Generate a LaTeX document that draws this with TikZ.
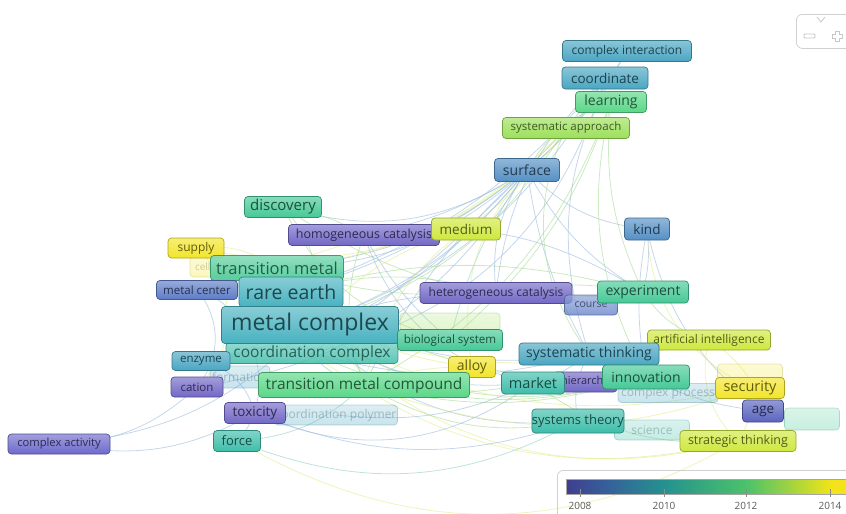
\documentclass[tikz,border=0pt]{standalone}
\usepackage{fontspec}
\setmainfont{Open Sans}
\usetikzlibrary{backgrounds}
\definecolor{cPur}{HTML}{7268C6}
\definecolor{cPurB}{HTML}{6E6ACC}
\definecolor{cBlP}{HTML}{5E7CC6}
\definecolor{cAge}{HTML}{5A64BE}
\definecolor{cBlue}{HTML}{5590C4}
\definecolor{cCyan}{HTML}{4AA6C2}
\definecolor{cTeal}{HTML}{48B2C0}
\definecolor{cTG}{HTML}{3EBDAA}
\definecolor{cGreen}{HTML}{46C996}
\definecolor{cLG}{HTML}{5AD788}
\definecolor{cYG}{HTML}{9CE05A}
\definecolor{cLY}{HTML}{CFE83E}
\definecolor{cYel}{HTML}{F2E52A}
\definecolor{eb}{HTML}{9DBDDD}
\definecolor{eg}{HTML}{A8DC98}
\definecolor{ey}{HTML}{E2EC8E}
\definecolor{et}{HTML}{90D0CC}
\definecolor{v0}{HTML}{403E8E}
\definecolor{v1}{HTML}{35629A}
\definecolor{v2}{HTML}{25928F}
\definecolor{v3}{HTML}{4CC26A}
\definecolor{v4}{HTML}{F2E418}
\pgfdeclarehorizontalshading{viridis}{100bp}{color(0bp)=(v0); color(25bp)=(v0); color(32.5bp)=(v1); color(42.5bp)=(v2); color(57bp)=(v3); color(72bp)=(v4); color(75bp)=(v4); color(100bp)=(v4)}
\tikzset{
  kw/.style={rounded corners=3.5pt, draw=#1!72!black, top color=#1!65!white, bottom color=#1, text=#1!40!black, line width=0.7pt, inner sep=0pt},
  fz/.style={font=\fontsize{#1}{#1}\selectfont},
  faded/.style={opacity=0.3},
  edge/.style={line width=0.8pt, opacity=0.6},
  ui/.style={draw=black!18, line width=0.8pt},
}
\begin{document}
\begin{tikzpicture}[x=1pt,y=-1pt]
\useasboundingbox (0,0) rectangle (846,514);
% faded / background labels
\node[kw=cYel, faded, fz=10, minimum width=50, minimum height=20, text width=40, align=left] (cefade) at (215,267) {cell};
\node[kw=cYG, faded, minimum width=100, minimum height=18] (fadeion) at (450,322) {};
\node[kw=cCyan, faded, fz=12, minimum width=60, minimum height=22] (form) at (240,377) {formation};
\node[kw=cYel, faded, minimum width=65, minimum height=20] (sust) at (750,374) {};
\node[kw=cCyan, faded, fz=12, minimum width=100, minimum height=19] (cproc) at (668,393) {complex process};
\node[kw=cGreen, faded, minimum width=55, minimum height=22] (fadeR) at (812,419) {};
\node[kw=cCyan, faded, fz=12, minimum width=123, minimum height=20] (cpol) at (336,415) {coordination polymer};
\node[kw=cTG, faded, fz=12, minimum width=75, minimum height=20] (ence) at (652,430) {science};
\node[kw=cPur, fz=11, minimum width=64, minimum height=20] (hier) at (585,382) {hierarchy};
% main labels
\node[kw=cCyan, fz=12, minimum width=129, minimum height=21] (ci) at (627,51) {complex interaction};
\node[kw=cCyan, fz=13.5, minimum width=86, minimum height=22] (coord) at (605,78) {coordinate};
\node[kw=cLG, fz=14, minimum width=71, minimum height=21] (learn) at (611,102) {learning};
\node[kw=cYG, fz=11.5, minimum width=127, minimum height=21] (sysapp) at (566,128) {systematic approach};
\node[kw=cBlue, fz=14, minimum width=65, minimum height=23] (surf) at (527,170) {surface};
\node[kw=cBlue, fz=13.5, minimum width=45, minimum height=22] (kind) at (647,229) {kind};
\node[kw=cGreen, fz=15, minimum width=77, minimum height=21] (disc) at (283,207) {discovery};
\node[kw=cPur, fz=12.5, minimum width=151, minimum height=21] (homo) at (364,235) {homogeneous catalysis};
\node[kw=cLY, fz=13.5, minimum width=69, minimum height=22] (med) at (466,229) {medium};
\node[kw=cYel, fz=12, minimum width=56, minimum height=20] (supp) at (196,248) {supply};
\node[kw=cGreen, fz=16.5, minimum width=133, minimum height=25, opacity=0.9] (tm) at (277,268) {transition metal};
\node[kw=cBlP, fz=11.5, minimum width=81, minimum height=19] (mcen) at (197,290) {metal center};
\node[kw=cTeal, fz=19.5, minimum width=104, minimum height=30] (re) at (291,292) {rare earth};
\node[kw=cPur, fz=12, minimum width=152, minimum height=21] (hetero) at (496,293) {heterogeneous catalysis};
\node[kw=cBlP, fz=10.5, minimum width=53, minimum height=20, opacity=0.75] (course) at (591,305) {course};
\node[kw=cGreen, fz=14, minimum width=91, minimum height=22] (exper) at (643,292) {experiment};
\node[kw=cTG, fz=15.5, minimum width=172, minimum height=21, opacity=0.85] (cc) at (312,353) {coordination complex};
\node[kw=cTeal, fz=23, minimum width=177, minimum height=37] (mc) at (310,325) {metal complex};
\node[kw=cGreen, fz=11.6, minimum width=105, minimum height=21] (bio) at (450,340) {biological system};
\node[kw=cCyan, fz=11.5, minimum width=58, minimum height=19] (enz) at (201,361) {enzyme};
\node[kw=cLY, fz=12, minimum width=123, minimum height=20] (ai) at (709,340) {artificial intelligence};
\node[kw=cCyan, fz=14, minimum width=140, minimum height=22] (systh) at (589,354) {systematic thinking};
\node[kw=cYel, fz=14, minimum width=47, minimum height=21] (alloy) at (472,367) {alloy};
\node[kw=cPur, fz=11.5, minimum width=52, minimum height=20] (cat) at (197,387) {cation};
\node[kw=cLG, fz=15.5, minimum width=211, minimum height=25] (tmc) at (364,385) {transition metal compound};
\node[kw=cTG, fz=14.5, minimum width=63, minimum height=22] (mkt) at (533,383) {market};
\node[kw=cGreen, fz=14, minimum width=87, minimum height=24] (innov) at (646,377) {innovation};
\node[kw=cYel, fz=14.5, minimum width=69, minimum height=21] (sec) at (750,388) {security};
\node[kw=cAge, fz=13.5, minimum width=41, minimum height=22] (age) at (763,411) {age};
\node[kw=cPur, fz=13.5, minimum width=61, minimum height=21] (tox) at (255,413) {toxicity};
\node[kw=cTG, fz=13, minimum width=90, minimum height=24] (systheory) at (578,421) {systems theory};
\node[kw=cLY, fz=12.5, minimum width=116, minimum height=21] (strat) at (738,441) {strategic thinking};
\node[kw=cTG, fz=13, minimum width=47, minimum height=21] (force) at (237,441) {force};
\node[kw=cPurB, fz=11.2, minimum width=102, minimum height=20] (cact) at (59,444) {complex activity};
% connectors
\begin{pgfonlayer}{background}
\foreach \a/\b/\bb/\c in {
 surf/mc/15/eb, surf/re/10/eb, surf/tm/20/eb, surf/homo/10/eb, surf/cc/5/eb,
 surf/tmc/-10/eb, surf/disc/25/eb, surf/bio/-10/et, surf/hetero/-20/eb, surf/kind/-20/eb,
 surf/exper/-15/eb, surf/systh/-10/eb, coord/surf/10/eb, coord/mc/20/eb, coord/tm/25/eb,
 coord/re/15/eb, learn/surf/-20/eg, learn/tmc/20/eg, learn/exper/-15/eg, learn/innov/-20/eg,
 ci/systh/-25/eb, ci/surf/10/eb, sysapp/supp/30/ey, sysapp/mc/20/eg, sysapp/tm/20/ey,
 sysapp/med/10/ey, sysapp/systh/-30/eg, mc/tmc/30/et, mc/hetero/10/eb, mc/bio/5/eg,
 mc/mkt/-20/eb, mc/innov/-25/eg, mc/systheory/-25/eb, mc/sec/-20/ey, mc/strat/-30/ey,
 mc/ai/-15/ey, mc/cact/20/eb, mc/mcen/-30/eb, re/hetero/15/eg, re/exper/15/eg,
 re/bio/-10/eg, re/alloy/-15/ey, re/enz/40/eb, tm/med/10/ey, tm/supp/-20/ey,
 tm/hetero/-10/eg, tmc/mkt/-10/eg, tmc/systheory/-20/eg, tmc/innov/-15/eg, tmc/alloy/10/ey,
 tmc/force/20/et, tmc/sec/-20/ey, cc/bio/10/eg, cc/systh/-15/eb, cc/strat/-25/ey,
 homo/exper/20/eb, homo/bio/-10/eb, hetero/exper/10/eg, hetero/course/10/eb, kind/exper/10/eb,
 kind/age/-20/eb, kind/sec/-30/ey, kind/innov/-10/eb, exper/ai/-20/eg, ai/age/20/ey,
 ai/strat/-30/ey, sec/strat/20/ey, systh/mkt/10/eb, systh/systheory/-20/eb, innov/age/-10/eb,
 mkt/strat/-20/eg, mcen/force/60/eb, mcen/cat/40/eb, cact/cat/-20/eb, cact/tox/-20/eb,
 tox/systheory/-20/eb, force/systheory/-25/et, enz/tox/30/eb, disc/exper/-20/eg, disc/homo/10/eg,
 supp/cat/50/ey, cpol/mkt/-15/eb, disc/mc/30/eg, homo/tmc/-20/eg, med/mc/-15/ey,
 surf/alloy/-25/ey, coord/hetero/-20/eb, learn/bio/15/eg, re/systh/-20/eb, tm/innov/-20/eg,
 surf/enz/20/eb, coord/cc/30/eb, surf/cat/25/eb, re/tmc/-40/et, homo/mkt/-30/eb,
 disc/bio/-25/eg, med/tmc/-20/ey, tox/mkt/-30/eb, force/strat/-30/ey, cc/innov/-20/eg}
 \draw[edge, draw=\c] (\a.center) to[bend left=\bb] (\b.center);
\end{pgfonlayer}
% colour bar
\node[ui, rounded corners=6pt, minimum width=300, minimum height=52, anchor=north west] (cbframe) at (557,470) {};
\node[draw=black!35, line width=0.5pt, shading=viridis, minimum width=282, minimum height=15, inner sep=0pt, anchor=north west] (cbar) at (566,479) {};
\foreach \x/\t in {580/2008, 664/2010, 746/2012, 830/2014}{
  \draw[black!45, line width=0.5pt] (\x,489) -- (\x,497);
  \node[fz=10, text=black!65, inner sep=0pt] (lab\t) at (\x,506) {\t};
}
% zoom control
\node[ui, rounded corners=6pt, minimum width=60, minimum height=34, anchor=north west] (zoomctl) at (796,14) {};
\draw[black!22, line width=0.8pt] (817,17) -- (821,22) -- (825,17);
\draw[black!22, line width=0.8pt, rounded corners=1pt] (804,34) rectangle (815,38);
\draw[black!22, line width=0.8pt] (832,34) -- (835,34) -- (835,31) -- (839,31) -- (839,34) -- (842,34) -- (842,38) -- (839,38) -- (839,41) -- (835,41) -- (835,38) -- (832,38) -- cycle;
\end{tikzpicture}
\end{document}
